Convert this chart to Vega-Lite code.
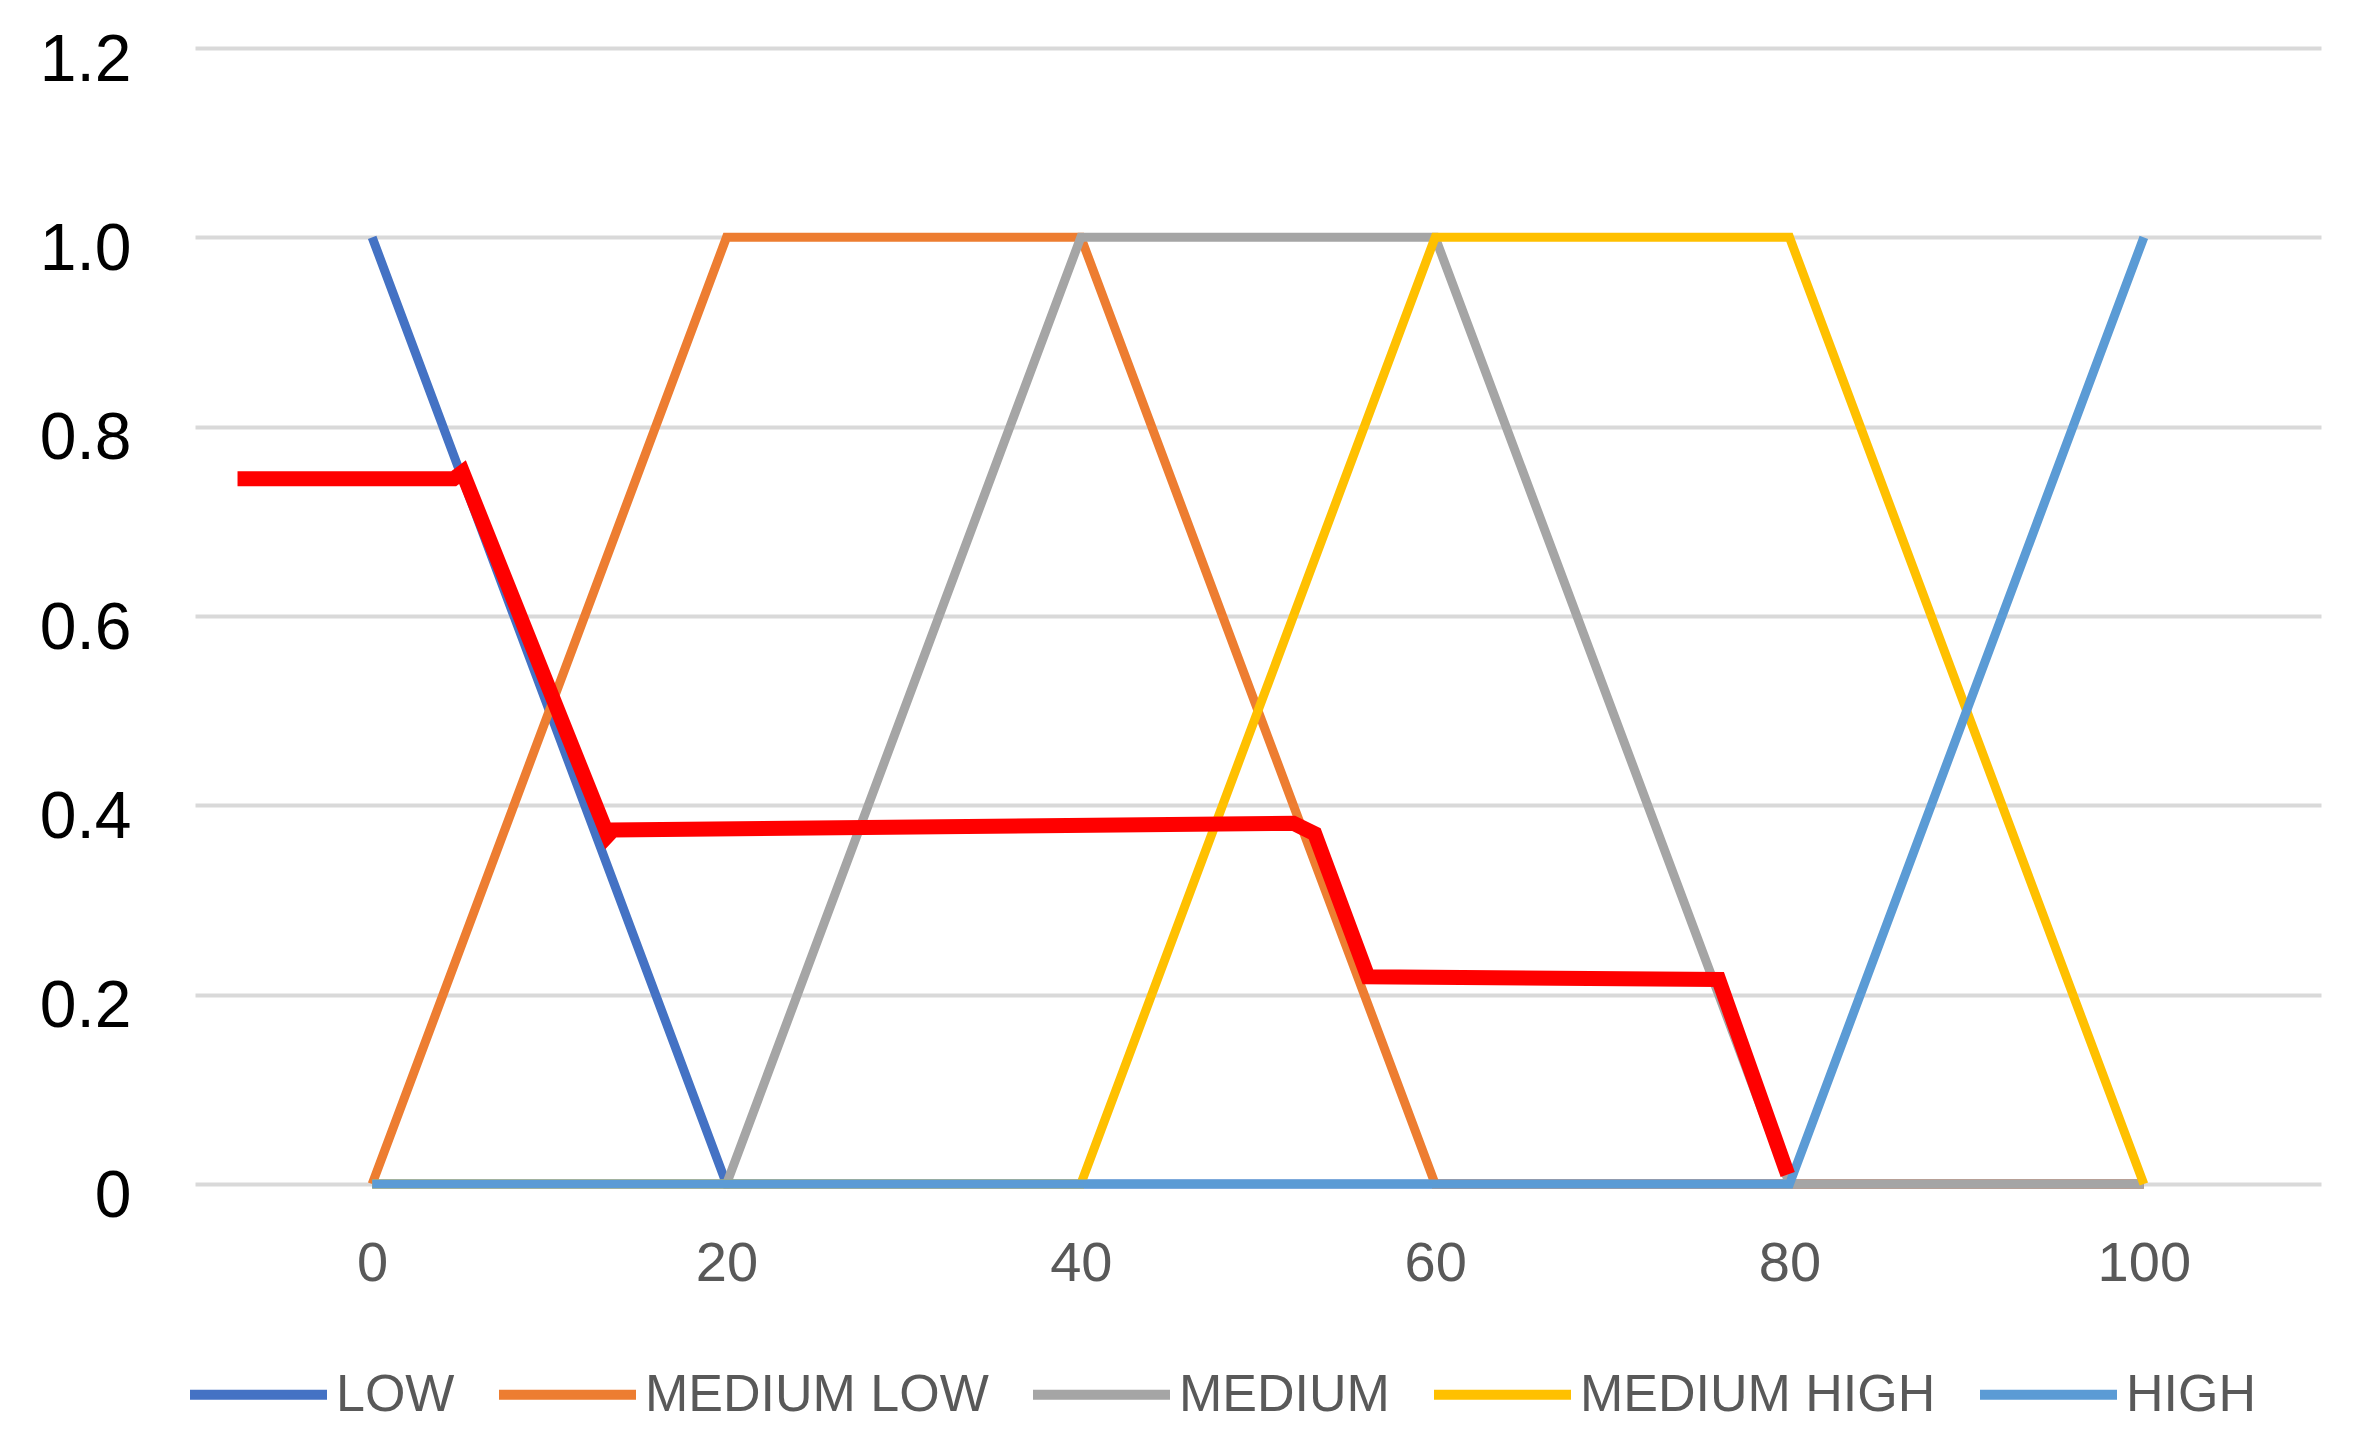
{
  "$schema": "https://vega.github.io/schema/vega-lite/v6.json",
  "autosize": "none",
  "width": 2126,
  "height": 1136,
  "padding": {"left": 195, "top": 48, "right": 38, "bottom": 262},
  "background": "white",
  "config": {
    "view": {"stroke": null},
    "font": "Liberation Sans"
  },
  "datasets": {
    "mf": [
      {"series": "LOW", "x": 0, "y": 1}, {"series": "LOW", "x": 20, "y": 0}, {"series": "LOW", "x": 40, "y": 0}, {"series": "LOW", "x": 60, "y": 0}, {"series": "LOW", "x": 80, "y": 0}, {"series": "LOW", "x": 100, "y": 0},
      {"series": "MEDIUM LOW", "x": 0, "y": 0}, {"series": "MEDIUM LOW", "x": 20, "y": 1}, {"series": "MEDIUM LOW", "x": 40, "y": 1}, {"series": "MEDIUM LOW", "x": 60, "y": 0}, {"series": "MEDIUM LOW", "x": 80, "y": 0}, {"series": "MEDIUM LOW", "x": 100, "y": 0},
      {"series": "MEDIUM", "x": 0, "y": 0}, {"series": "MEDIUM", "x": 20, "y": 0}, {"series": "MEDIUM", "x": 40, "y": 1}, {"series": "MEDIUM", "x": 60, "y": 1}, {"series": "MEDIUM", "x": 80, "y": 0}, {"series": "MEDIUM", "x": 100, "y": 0},
      {"series": "MEDIUM HIGH", "x": 0, "y": 0}, {"series": "MEDIUM HIGH", "x": 20, "y": 0}, {"series": "MEDIUM HIGH", "x": 40, "y": 0}, {"series": "MEDIUM HIGH", "x": 60, "y": 1}, {"series": "MEDIUM HIGH", "x": 80, "y": 1}, {"series": "MEDIUM HIGH", "x": 100, "y": 0},
      {"series": "HIGH", "x": 0, "y": 0}, {"series": "HIGH", "x": 20, "y": 0}, {"series": "HIGH", "x": 40, "y": 0}, {"series": "HIGH", "x": 60, "y": 0}, {"series": "HIGH", "x": 80, "y": 0}, {"series": "HIGH", "x": 100, "y": 1}
    ],
    "out": [
      {"i": 1, "x": -7.6, "y": 0.745},
      {"i": 2, "x": 4.6, "y": 0.745},
      {"i": 3, "x": 5.1, "y": 0.752},
      {"i": 4, "x": 13.3, "y": 0.368},
      {"i": 5, "x": 13.6, "y": 0.374},
      {"i": 6, "x": 52.0, "y": 0.381},
      {"i": 7, "x": 53.2, "y": 0.37},
      {"i": 8, "x": 56.2, "y": 0.219},
      {"i": 9, "x": 76.0, "y": 0.216},
      {"i": 10, "x": 79.9, "y": 0.01}
    ]
  },
  "layer": [
    {
      "data": {"name": "mf"},
      "mark": {"type": "line", "strokeWidth": 9, "strokeJoin": "miter", "strokeCap": "butt"},
      "encoding": {
        "x": {
          "field": "x", "type": "quantitative",
          "scale": {"domain": [-10, 110], "nice": false, "zero": false},
          "axis": {
            "title": null, "values": [0, 20, 40, 60, 80, 100], "grid": false, "domain": false, "ticks": false,
            "labelFontSize": 56, "labelColor": "#595959", "labelPadding": 52, "labelFont": "Liberation Sans"
          }
        },
        "y": {
          "field": "y", "type": "quantitative",
          "scale": {"domain": [0, 1.2], "nice": false},
          "axis": {
            "title": null, "values": [0, 0.2, 0.4, 0.6, 0.8, 1.0, 1.2], "domain": false, "ticks": false,
            "grid": true, "gridColor": "#D9D9D9", "gridWidth": 4,
            "labelExpr": "datum.value == 0 ? '0' : format(datum.value, '.1f')",
            "labelFontSize": 66, "labelColor": "#000000", "labelPadding": 64, "labelOffset": 12, "labelFont": "Liberation Sans"
          }
        },
        "color": {
          "field": "series", "type": "nominal",
          "scale": {
            "domain": ["LOW", "MEDIUM LOW", "MEDIUM", "MEDIUM HIGH", "HIGH"],
            "range": ["#4472C4", "#ED7D31", "#A5A5A5", "#FFC000", "#5B9BD5"]
          },
          "legend": {
            "title": null, "orient": "none", "legendX": -10, "legendY": 1273,
            "direction": "horizontal", "columns": 5,
            "symbolType": "stroke", "symbolSize": 18769, "symbolStrokeWidth": 10,
            "labelFontSize": 52, "labelColor": "#595959", "labelOffset": 4, "labelLimit": 1000,
            "columnPadding": 24, "labelFont": "Liberation Sans"
          }
        }
      }
    },
    {
      "data": {"name": "out"},
      "mark": {"type": "line", "color": "#FF0000", "strokeWidth": 15, "strokeJoin": "miter"},
      "encoding": {
        "x": {"field": "x", "type": "quantitative"},
        "y": {"field": "y", "type": "quantitative"},
        "order": {"field": "i", "type": "quantitative"}
      }
    }
  ]
}
